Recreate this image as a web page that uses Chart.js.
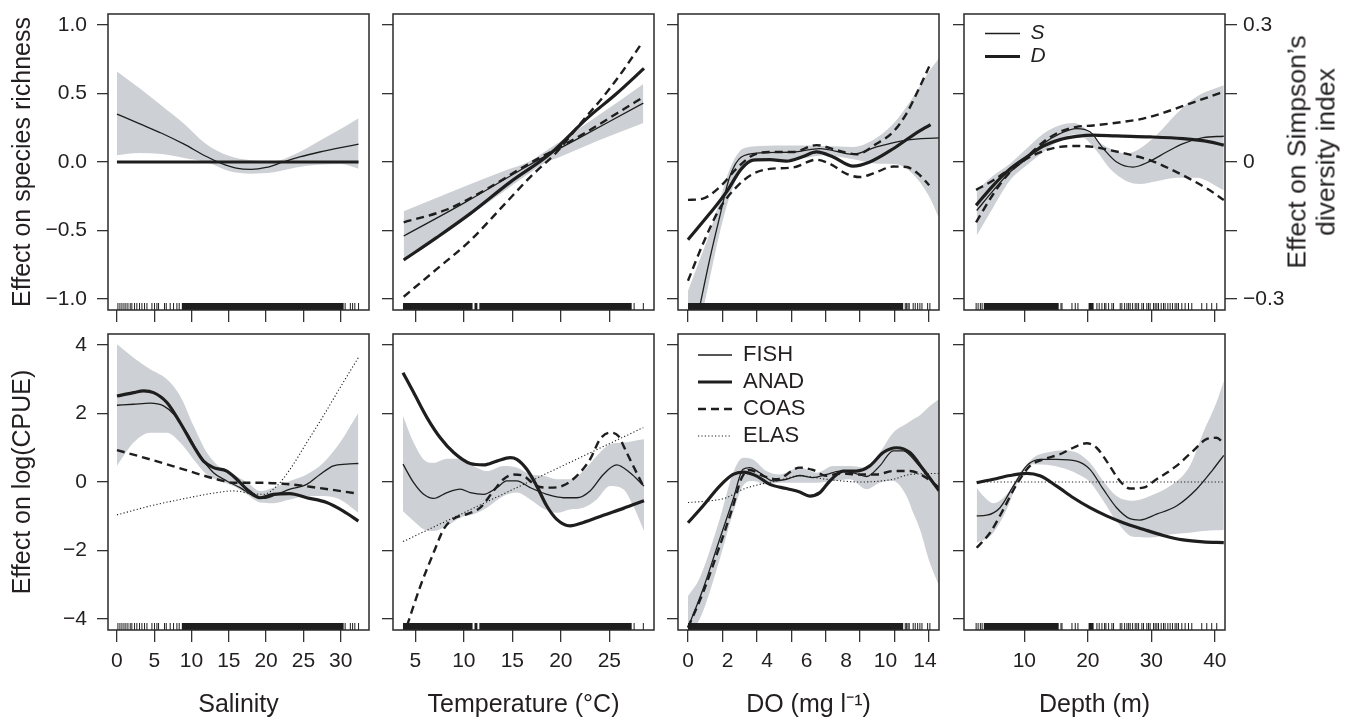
<!DOCTYPE html>
<html><head><meta charset="utf-8">
<script src="https://cdn.jsdelivr.net/npm/chart.js@4/dist/chart.umd.min.js"></script>
<style>
html,body{margin:0;padding:0;background:#fff;}
#wrap{position:relative;width:1349px;height:721px;overflow:hidden;background:#fff;}
#wrap canvas{position:absolute;left:0;top:0;}
#rtitle{position:absolute;left:1311px;top:152px;transform:translate(-50%,-50%) rotate(-90deg);
 font-family:'Liberation Sans',Arial,Helvetica,sans-serif;font-size:26.5px;line-height:28.5px;text-align:center;white-space:nowrap;color:#231f20;}
</style>
</head><body>
<div id="wrap"><div id="rtitle">Effect on Simpson’s<br>diversity index</div></div>
<script>
// ---------------- tick values / labels ----------------
const sal_xticks = [0,5,10,15,20,25,30];
const tmp_xticks = [5,10,15,20,25];
const do_xticks  = [0,2,4,6,8,10,12,14];
const do_xlabels = ['0','2','4','6','8','10','14'];
const dep_xticks = [10,20,30,40];
const rich_yticks = [-1,-0.5,0,0.5,1];
const simp_yticks = [-0.3,-0.15,0,0.15,0.3];
const simp_labels = ['\u22120.3','','0','','0.3'];
const cpue_yticks = [-4,-2,0,2,4];
const x_titles = ['Salinity','Temperature (°C)','DO (mg l\u207B\u00B9)','Depth (m)'];

// ---------------- top row: species richness (S) & Simpson's D ----------------
const sal_S = [[0,0.35],[3,0.28],[6,0.21],[9,0.13],[12,0.04],[14,-0.01],[16,-0.045],[18,-0.054],[20,-0.04],[22.3,0],[24.5,0.037],[27.2,0.073],[30,0.105],[32.4,0.13]];
const sal_D = [[0,0],[32.4,0]];
const sal_Sband_x  = [0,3,6,9,12,15,18,21,24,27,30,32.4];
const sal_Sband_hi = [0.66,0.54,0.41,0.28,0.13,0.045,0.012,0.006,0.06,0.15,0.24,0.32];
const sal_Sband_lo = [0.05,0.066,0.058,0.03,0.0,-0.065,-0.085,-0.075,-0.04,-0.02,-0.015,-0.05];

const tmp_S = [[3.8,-0.54],[10,-0.30],[16.8,-0.02],[22,0.18],[28.5,0.43]];
const tmp_Sband_x  = [3.8,10,14,17,18.2,20,24,28.5];
const tmp_Sband_hi = [-0.36,-0.18,-0.07,0.012,0.07,0.154,0.346,0.57];
const tmp_Sband_lo = [-0.72,-0.42,-0.22,-0.07,-0.012,0.04,0.16,0.285];
const tmp_D  = [[3.8,-0.2145],[7.23,-0.165],[10.66,-0.113],[14.78,-0.044],[18.89,0.018],[22.67,0.095],[25.75,0.15],[28.57,0.205]];
const tmp_Da = [[3.8,-0.132],[8.26,-0.104],[12.38,-0.059],[16.84,-0.002],[19.58,0.029],[22.67,0.066],[25.75,0.106],[28.57,0.143]];
const tmp_Db = [[3.8,-0.295],[7.23,-0.234],[10.66,-0.172],[14.09,-0.095],[16.84,-0.033],[19.58,0.022],[22.32,0.092],[24.38,0.143],[26.44,0.201],[28.33,0.26]];

const do_S = [[0,-1.46],[0.64,-1.08],[1.26,-0.71],[1.84,-0.40],[2.42,-0.11],[3.1,0.037],[4.17,0.066],[6.1,0.073],[7.65,0.098],[9.59,0.056],[10.95,0.11],[12.69,0.16],[14.59,0.176]];
const do_Sband_x  = [0,0.6,1.2,1.8,2.4,3.2,4.2,6,8,9.6,11,12,13,14,14.6];
const do_Sband_hi = [-0.94,-0.74,-0.54,-0.30,-0.06,0.098,0.117,0.12,0.117,0.11,0.18,0.29,0.46,0.66,0.76];
const do_Sband_lo = [-1.58,-1.24,-0.89,-0.54,-0.26,-0.04,0.012,0.017,0.05,0.02,-0.012,-0.015,-0.08,-0.25,-0.415];
const do_D  = [[0,-0.170],[1.26,-0.113],[2.23,-0.066],[3.1,-0.015],[3.78,0.004],[4.75,0.005],[5.72,0.002],[6.69,0.012],[7.46,0.022],[8.43,0.011],[9.59,-0.009],[10.56,0],[11.92,0.029],[13.08,0.059],[14.09,0.082]];
const do_Da = [[0,-0.083],[0.87,-0.080],[1.84,-0.055],[2.81,-0.015],[3.78,0.015],[4.75,0.022],[6.1,0.022],[7.46,0.037],[8.62,0.026],[9.79,0.017],[10.95,0.040],[11.92,0.066],[12.69,0.106],[13.47,0.165],[14.01,0.209]];
const do_Db = [[0,-0.260],[0.87,-0.179],[1.84,-0.102],[2.81,-0.055],[3.78,-0.026],[4.75,-0.015],[6.1,-0.012],[7.46,0.005],[8.24,-0.004],[9.21,-0.026],[9.98,-0.033],[10.95,-0.022],[11.92,-0.010],[12.69,-0.011],[13.47,-0.029],[14.01,-0.051]];

const dep_S = [[2.5,-0.354],[5.12,-0.207],[7.75,-0.073],[10.37,0.024],[12.99,0.134],[15.61,0.207],[18.23,0.244],[20.33,0.22],[22.43,0.098],[24.53,0],[27.15,-0.037],[29.77,0.005],[32.39,0.073],[35.01,0.134],[38.16,0.178],[41.41,0.188]];
const dep_Sband_x  = [2.5,5.12,7.75,10.37,12.99,15.61,17.7,19.3,21.4,23.5,26.1,28.2,30.8,34,37.1,41.41];
const dep_Sband_hi = [-0.207,-0.098,-0.012,0.098,0.207,0.268,0.285,0.256,0.159,0.098,0.061,0.098,0.195,0.354,0.476,0.56];
const dep_Sband_lo = [-0.537,-0.33,-0.134,-0.024,0.073,0.159,0.2,0.18,0.08,-0.05,-0.14,-0.16,-0.14,-0.115,-0.115,-0.207];
const dep_D  = [[2.4,-0.095],[5.12,-0.051],[7.75,-0.015],[10.37,0.011],[12.99,0.035],[15.61,0.049],[18.23,0.056],[20.85,0.059],[24.53,0.057],[29.77,0.055],[35.01,0.051],[39.2,0.044],[41.41,0.037]];
const dep_Da = [[2.4,-0.061],[5.12,-0.040],[7.75,-0.015],[10.37,0.011],[12.99,0.044],[15.61,0.066],[18.23,0.077],[20.85,0.080],[24.53,0.086],[28.72,0.095],[32.39,0.110],[36.06,0.128],[39.2,0.143],[41.41,0.154]];
const dep_Db = [[2.4,-0.132],[5.12,-0.070],[7.75,-0.022],[10.37,0.007],[12.99,0.024],[15.61,0.033],[18.23,0.035],[20.85,0.033],[23.48,0.026],[26.62,0.016],[29.77,0.004],[32.92,-0.015],[36.06,-0.037],[39.2,-0.062],[41.41,-0.083]];

// ---------------- bottom row: log(CPUE) ----------------
const sal_FISH = [[0,2.24],[2.23,2.27],[4.46,2.30],[6.25,2.22],[7.59,1.98],[9.38,1.44],[11.16,0.76],[12.95,0.27],[14.73,0.03],[16.52,-0.165],[18.3,-0.41],[19.64,-0.48],[21.43,-0.36],[23.21,-0.21],[25.45,-0.07],[27.23,0.22],[29.02,0.47],[30.8,0.52],[32.37,0.54]];
const sal_ANAD = [[0,2.51],[2.23,2.61],[3.57,2.66],[4.91,2.61],[6.7,2.32],[8.48,1.73],[10.27,1.05],[11.61,0.61],[12.95,0.42],[14.73,0.32],[16.07,0.08],[17.41,-0.21],[19.2,-0.46],[21,-0.36],[23.2,-0.34],[25.45,-0.46],[28.13,-0.60],[30.36,-0.85],[32.37,-1.14]];
const sal_COAS = [[0,0.93],[4.46,0.66],[8.93,0.37],[13.39,0.08],[15.63,-0.02],[17.86,-0.02],[22.32,-0.05],[26.79,-0.165],[32.37,-0.34]];
const sal_ELAS = [[0,-0.96],[4.46,-0.70],[8.93,-0.49],[13.39,-0.31],[15.63,-0.26],[17.86,-0.33],[19.64,-0.36],[21.43,-0.12],[23.21,0.37],[25.45,1.15],[27.68,1.93],[29.91,2.75],[32.37,3.63]];
const sal_Fband_x  = [0,2.23,4.46,6.7,8.48,10.27,12.05,13.84,15.63,17.41,19.2,20.98,23.21,25.45,27.68,29.91,32.37];
const sal_Fband_hi = [4.02,3.63,3.29,3.0,2.51,1.64,0.86,0.42,0.22,0,-0.26,-0.165,0.03,0.22,0.56,1.15,2.02];
const sal_Fband_lo = [0.47,1.15,1.44,1.44,1.15,0.66,0.22,0.03,-0.12,-0.36,-0.60,-0.62,-0.51,-0.41,-0.41,-0.51,-0.90];

const tmp_FISH = [[3.73,0.52],[4.83,-0.02],[5.86,-0.36],[6.89,-0.48],[8.26,-0.31],[9.63,-0.21],[10.66,-0.31],[12.03,-0.36],[13.4,-0.165],[14.43,0.03],[15.46,0.03],[16.84,-0.165],[18.55,-0.36],[20.27,-0.46],[21.64,-0.46],[23.01,-0.26],[24.38,0.22],[25.75,0.50],[27.13,0.27],[28.57,-0.12]];
const tmp_ANAD = [[3.73,3.19],[4.83,2.61],[6.2,1.88],[7.57,1.29],[8.95,0.86],[10.66,0.54],[12.03,0.50],[13.4,0.61],[14.78,0.71],[15.46,0.66],[16.49,0.37],[17.52,-0.12],[18.55,-0.70],[19.58,-1.09],[20.95,-1.28],[22.32,-1.18],[24.38,-0.97],[26.44,-0.77],[28.57,-0.55]];
const tmp_COAS = [[4.14,-4.2],[5.52,-3.04],[6.89,-2.06],[7.92,-1.38],[8.95,-1.07],[10.32,-0.94],[11.69,-0.75],[13.06,-0.26],[14.09,0.08],[15.12,0.22],[16.15,0.18],[17.52,-0.12],[18.89,-0.165],[20.27,-0.10],[21.64,0.18],[23.01,0.66],[24.04,1.25],[25.07,1.44],[25.93,1.34],[26.78,0.86],[27.81,0.27],[28.5,-0.12]];
const tmp_ELAS = [[3.73,-1.74],[28.5,1.59]];
const tmp_Fband_x  = [3.73,4.83,5.86,6.89,8.26,9.63,11.0,12.38,14.09,15.46,16.84,18.21,19.58,20.95,22.32,23.7,25.07,26.44,27.47,28.57];
const tmp_Fband_hi = [1.93,1.15,0.66,0.56,0.68,0.68,0.47,0.32,0.47,0.42,0.22,0.18,0.08,0.08,0.32,0.76,1.10,1.15,1.2,1.25];
const tmp_Fband_lo = [-0.85,-1.14,-1.38,-1.43,-1.28,-1.04,-0.94,-0.75,-0.41,-0.31,-0.51,-0.78,-0.90,-0.80,-0.75,-0.51,-0.12,-0.21,-0.70,-1.43];

const do_FISH = [[0,-4.25],[0.87,-3.13],[1.84,-1.67],[2.62,-0.51],[3.2,0.37],[3.59,0.42],[4.17,0.27],[4.94,0.03],[5.72,0.08],[6.49,0.19],[7.27,0.13],[8.04,0.22],[8.82,0.32],[9.59,0.27],[10.37,0.16],[11.14,0.47],[11.92,0.91],[12.5,0.91],[13.28,0.56],[14.05,0.08],[14.59,-0.26]];
const do_ANAD = [[0,-1.19],[0.87,-0.70],[1.84,-0.12],[2.62,0.22],[3.2,0.29],[3.97,0.18],[4.75,-0.07],[5.72,-0.19],[6.49,-0.29],[7.07,-0.41],[7.66,-0.31],[8.24,0.03],[9.01,0.32],[9.79,0.32],[10.56,0.47],[11.34,0.86],[12.11,1.00],[12.89,0.86],[13.66,0.37],[14.59,-0.26]];
const do_COAS = [[0,-4.25],[0.87,-3.23],[1.84,-1.87],[2.62,-0.70],[3.1,0.1],[3.59,0.35],[4.36,0.18],[5.14,0.08],[6.49,0.42],[7.27,0.35],[8.04,0.18],[8.82,0.25],[9.98,0.22],[10.95,0.22],[11.92,0.32],[12.89,0.32],[13.66,0.18],[14.59,-0.165]];
const do_ELAS = [[0,-0.60],[1.26,-0.55],[2.23,-0.46],[3.2,-0.21],[4.17,-0.07],[5.14,0.03],[6.49,0.18],[8.04,0.08],[9.98,0],[11.92,0.08],[12.89,0.22],[14.59,0.25]];
const do_Fband_x  = [0,0.68,1.84,2.62,3.2,3.78,4.55,5.33,6.49,7.46,8.43,9.4,10.37,11.14,11.92,12.69,13.08,13.47,14.05,14.59];
const do_Fband_hi = [-3.33,-2.8,-1.09,0.27,0.71,0.66,0.32,0.22,0.42,0.27,0.47,0.47,0.42,0.86,1.44,1.7,1.83,1.95,2.22,2.43];
const do_Fband_lo = [-4.4,-4.0,-2.26,-0.90,-0.1,0.03,-0.07,-0.02,-0.02,-0.02,0.03,0.08,-0.21,-0.02,0.03,-0.41,-0.9,-1.38,-2.36,-3.04];

const dep_FISH = [[2.5,-0.99],[4.07,-0.97],[6.17,-0.75],[8.27,-0.12],[10.37,0.47],[12.46,0.66],[15.09,0.66],[18.23,0.61],[20.33,0.37],[22.43,-0.21],[24.53,-0.75],[26.62,-1.07],[28.2,-1.11],[30.82,-0.94],[33.96,-0.70],[37.11,-0.21],[39.73,0.37],[41.41,0.78]];
const dep_ANAD = [[2.5,-0.02],[5.12,0.08],[7.75,0.19],[10.37,0.25],[12.46,0.18],[15.09,-0.12],[17.71,-0.46],[20.33,-0.75],[22.95,-0.99],[25.57,-1.19],[28.72,-1.38],[31.87,-1.56],[35.01,-1.69],[38.16,-1.75],[41.41,-1.77]];
const dep_COAS = [[2.5,-1.92],[4.6,-1.48],[6.7,-0.80],[8.79,-0.07],[10.89,0.47],[12.99,0.66],[15.61,0.81],[17.71,1.00],[19.81,1.13],[21.38,1.00],[22.95,0.61],[25.05,0.03],[26.62,-0.19],[28.72,-0.165],[30.82,0.08],[33.96,0.47],[36.59,0.91],[38.68,1.25],[40.25,1.29],[41.41,1.13]];
const dep_ELAS = [[2.5,0],[41.41,0]];
const dep_Fband_x  = [2.5,3.55,5.12,7.22,9.32,11.42,13.51,16.14,18.23,20.33,22.43,24.53,27.15,29.77,32.92,36.06,38.16,40.25,41.41];
const dep_Fband_hi = [-0.165,-0.41,-0.62,-0.36,0.27,0.71,0.86,0.93,0.86,0.56,0.03,-0.41,-0.55,-0.41,-0.12,0.47,1.44,2.32,2.95];
const dep_Fband_lo = [-1.77,-1.70,-1.48,-0.80,0.13,0.52,0.50,0.40,0.25,0.0,-0.55,-1.15,-1.6,-1.62,-1.53,-1.48,-1.43,-1.41,-1.40];

// ---------------- rug (observation positions) ----------------
const sal_rug_dense = [[8.7,30.4]];
const sal_rug_ticks = [0.13,0.4,0.67,0.94,1.2,1.47,1.78,2.0,2.36,2.67,3.03,3.35,3.7,4.02,4.69,5.04,5.36,5.58,6.38,6.61,7.14,7.59,8.04,8.35,30.6,31.3,31.6,31.9,32.4];
const tmp_rug_dense = [[3.73,10.9],[11.1,11.4],[11.6,27.3]];
const tmp_rug_ticks = [27.55,28.5];
const do_rug_dense = [[0,12.5]];
const do_rug_ticks = [12.62,12.7,12.78,12.85,13.08,13.2,13.34,13.47,13.59,13.92,14.05];
const dep_rug_dense = [[3.62,15.41],[20.12,20.91]];
const dep_rug_ticks = [2.41,2.72,3.08,3.35,15.77,15.93,17.5,18.02,18.44,21.43,21.79,22.22,22.64,22.85,23.27,23.79,24.05,25.1,25.36,25.79,26.15,26.42,26.67,27.05,27.46,27.72,27.99,28.51,28.77,29.29,29.56,29.81,30.35,30.6,30.87,31.13,31.55,31.92,32.17,32.6,32.96,33.33,33.74,34.01,34.28,34.8,35.32,35.85,36.37,37.94,38.73,39.51,40.3];

// ---------------- layout & style ----------------
const PAGE_W = 1349, PAGE_H = 721;
const BOX_L = [108, 393, 678, 964], BOX_W = 261;
const BOX_T = [14, 334], BOX_H = 296;
const Y_W = 108, X_H = 90, R_W = 124;
const INK = '#1e1e1e', BAND = '#cdd0d4', TXT = '#231f20', TICK_C = '#333333', BOX_C = '#2a2a2a';
const FONT = "'Liberation Sans', Arial, Helvetica, sans-serif";
const RUG_LEN = 7;
const STY = {
  thin:  {borderWidth:1.3, borderDash:[]},
  thick: {borderWidth:3.2, borderDash:[]},
  dash:  {borderWidth:2.4, borderDash:[8,5]},
  dot:   {borderWidth:1.1, borderDash:[1.2,2.2]}
};
Chart.defaults.font.family = FONT;
Chart.defaults.color = TXT;

const pts = arr => arr.map(p => ({x:p[0], y:p[1]}));
function line(label, arr, sty, yAxisID){
  return Object.assign({label, data:pts(arr), xAxisID:'x', yAxisID:yAxisID||'y', borderColor:INK, backgroundColor:INK,
    pointRadius:0, fill:false, cubicInterpolationMode:'monotone', borderCapStyle:'butt', order:0}, sty);
}
function band(xs, hi, lo, yAxisID){
  const mk = ys => xs.map((x,i)=>({x, y:ys[i]}));
  return [
    {label:'', data:mk(hi), xAxisID:'x', yAxisID:yAxisID||'y', borderWidth:0, borderColor:'rgba(0,0,0,0)', pointRadius:0, fill:'+1', backgroundColor:BAND, cubicInterpolationMode:'monotone', order:5},
    {label:'', data:mk(lo), xAxisID:'x', yAxisID:yAxisID||'y', borderWidth:0, borderColor:'rgba(0,0,0,0)', pointRadius:0, fill:false, backgroundColor:BAND, cubicInterpolationMode:'monotone', order:5}
  ];
}
function rug(dense, ticks){
  const out = dense.map(seg => ({label:'', data:[{x:seg[0], y:RUG_LEN/2},{x:seg[1], y:RUG_LEN/2}], xAxisID:'x', yAxisID:'yr',
    borderColor:INK, borderWidth:RUG_LEN, borderCapStyle:'butt', pointRadius:0, fill:false, order:1}));
  out.push({label:'', data:ticks.map(x => ({x, y:RUG_LEN/2})), xAxisID:'x', yAxisID:'yr', showLine:false,
    pointStyle:'line', pointRotation:90, pointRadius:RUG_LEN/2, pointBorderColor:INK, pointBorderWidth:1, borderColor:INK, order:1});
  return out;
}
function nopad(s){ s.paddingLeft = 0; s.paddingRight = 0; s.paddingTop = 0; s.paddingBottom = 0; }
const fmtRich = v => (v < 0 ? '\u2212' : '') + Math.abs(v).toFixed(1);
const fmtCpue = v => (v < 0 ? '\u2212' : '') + Math.abs(v);

function buildScales(col, row, sp){
  const bottom = row === 1, left = col === 0;
  const tickFont = {family:FONT, size:21};
  const titleFont = {family:FONT, size:25};
  const grid = len => ({drawOnChartArea:false, drawTicks:true, tickLength:len, color:TICK_C, lineWidth:1.3});
  const showXLab = bottom && !sp.xlabels;
  const sc = {};
  sc.x = {type:'linear', position:'bottom', min:sp.xr[0], max:sp.xr[1], border:{display:false}, grid:grid(12),
    afterBuildTicks: s => { s.ticks = sp.xt.map(v => ({value:v})); },
    ticks:{display:showXLab, autoSkip:false, maxRotation:0, minRotation:0, padding:7, font:tickFont, color:TXT, callback:v => String(v)},
    title:{display:showXLab, text:sp.title, font:titleFont, color:TXT, padding:{top:0, bottom:0}},
    afterFit: s => { s.height = showXLab ? X_H : 12; nopad(s); }};
  if (bottom && sp.xlabels) {
    sc.xl = {type:'linear', position:'bottom', min:sp.xlr[0], max:sp.xlr[1], border:{display:false}, grid:{display:false, drawTicks:false},
      afterBuildTicks: s => { s.ticks = sp.xlabels.map((t,i) => ({value:i})); },
      ticks:{autoSkip:false, maxRotation:0, minRotation:0, padding:7, font:tickFont, color:TXT, callback:v => sp.xlabels[Math.round(v)]},
      title:{display:true, text:sp.title, font:titleFont, color:TXT, padding:{top:0, bottom:0}},
      afterFit: s => { s.height = X_H - 12; nopad(s); }};
  }
  const yr = bottom ? [-4.32, 4.32] : [-1.08, 1.08];
  const yt = bottom ? cpue_yticks : rich_yticks;
  sc.y = {type:'linear', position:'left', min:yr[0], max:yr[1], border:{display:false}, grid:grid(11),
    afterBuildTicks: s => { s.ticks = yt.map(v => ({value:v})); },
    ticks:{display:left, padding:10, font:tickFont, color:TXT, callback:v => bottom ? fmtCpue(v) : fmtRich(v)},
    title:{display:left, text: bottom ? 'Effect on log(CPUE)' : 'Effect on species richness', font:titleFont, color:TXT, padding:{top:8, bottom:0}},
    afterFit: s => { s.width = left ? Y_W : 11; nopad(s); }};
  if (!bottom) {
    const show = col === 3;
    sc.yR = {type:'linear', position:'right', display:show, min:-0.324, max:0.324, border:{display:false}, grid:grid(12),
      afterBuildTicks: s => { s.ticks = simp_yticks.map(v => ({value:v})); },
      ticks:{padding:6, font:tickFont, color:TXT, callback:(v,i) => simp_labels[i]},
      afterFit: s => { s.width = show ? R_W : 0; nopad(s); }};
  }
  sc.yr = {type:'linear', display:false, min:0, max:BOX_H};
  return sc;
}

const boxPlugin = {id:'panelBox', afterDatasetsDraw(chart){
  const {ctx, chartArea:a} = chart;
  ctx.save(); ctx.strokeStyle = BOX_C; ctx.lineWidth = 1.5;
  ctx.strokeRect(a.left, a.top, a.right - a.left, a.bottom - a.top); ctx.restore();
}};

const wrap = document.getElementById('wrap');
function makeChart(col, row, sp){
  const cv = document.createElement('canvas');
  cv.width = PAGE_W; cv.height = PAGE_H;
  wrap.insertBefore(cv, wrap.firstChild);
  const bottom = row === 1;
  const leftW = col === 0 ? Y_W : 11;
  const rightW = (!bottom && col === 3) ? R_W : 0;
  const xH = bottom ? X_H : 12;
  const lg = sp.legend;
  const legendOpts = lg ? {
    display:true, position:'chartArea', align:'start',
    labels:{usePointStyle:true, pointStyle:'line', pointStyleWidth:lg.w, padding:lg.pad, color:TXT,
      font:{family:FONT, size:lg.size, style:lg.style || 'normal'},
      generateLabels: chart => chart.data.datasets.map((d,i) => ({text:d.label, datasetIndex:i, strokeStyle:INK, fillStyle:INK,
        lineWidth:d.borderWidth, lineDash:d.borderDash || [], lineCap:'butt', pointStyle:'line', hidden:false, fontColor:TXT})).filter(it => it.text)}
  } : {display:false};
  const shift = {id:'legendShift', afterLayout(chart){
    if (!lg || !chart.legend) return;
    const a = chart.chartArea, L = chart.legend;
    L.left = a.left + lg.dx; L.top = a.top + lg.dy; L.right = a.right; L.bottom = a.bottom;
  }};
  new Chart(cv.getContext('2d'), {
    type:'line',
    data:{datasets:sp.datasets},
    options:{responsive:false, animation:false, events:[], devicePixelRatio:1,
      layout:{autoPadding:false, padding:{left:BOX_L[col] - leftW, right:PAGE_W - BOX_L[col] - BOX_W - rightW, top:BOX_T[row], bottom:PAGE_H - BOX_T[row] - BOX_H - xH}},
      scales:buildScales(col, row, sp),
      plugins:{tooltip:{enabled:false}, legend:legendOpts}},
    plugins:[boxPlugin, shift]
  });
}

const XR = [[-1.2,33.8],[2.7,29.6],[-0.58,14.58],[0.5,41.6]];
const XT = [sal_xticks, tmp_xticks, do_xticks, dep_xticks];

// top row
makeChart(0,0,{xr:XR[0], xt:XT[0], title:x_titles[0], datasets:[
  line('S', sal_S, STY.thin), line('D', sal_D, STY.thick, 'yR'),
  ...band(sal_Sband_x, sal_Sband_hi, sal_Sband_lo), ...rug(sal_rug_dense, sal_rug_ticks)]});
makeChart(1,0,{xr:XR[1], xt:XT[1], title:x_titles[1], datasets:[
  line('S', tmp_S, STY.thin), line('D', tmp_D, STY.thick, 'yR'), line('', tmp_Da, STY.dash, 'yR'), line('', tmp_Db, STY.dash, 'yR'),
  ...band(tmp_Sband_x, tmp_Sband_hi, tmp_Sband_lo), ...rug(tmp_rug_dense, tmp_rug_ticks)]});
makeChart(2,0,{xr:XR[2], xt:XT[2], title:x_titles[2], datasets:[
  line('S', do_S, STY.thin), line('D', do_D, STY.thick, 'yR'), line('', do_Da, STY.dash, 'yR'), line('', do_Db, STY.dash, 'yR'),
  ...band(do_Sband_x, do_Sband_hi, do_Sband_lo), ...rug(do_rug_dense, do_rug_ticks)]});
makeChart(3,0,{xr:XR[3], xt:XT[3], title:x_titles[3],
  legend:{w:35, pad:2, size:21, style:'italic', dx:19, dy:7},
  datasets:[
  line('S', dep_S, STY.thin), line('D', dep_D, STY.thick, 'yR'), line('', dep_Da, STY.dash, 'yR'), line('', dep_Db, STY.dash, 'yR'),
  ...band(dep_Sband_x, dep_Sband_hi, dep_Sband_lo), ...rug(dep_rug_dense, dep_rug_ticks)]});

// bottom row
makeChart(0,1,{xr:XR[0], xt:XT[0], title:x_titles[0], datasets:[
  line('FISH', sal_FISH, STY.thin), line('ANAD', sal_ANAD, STY.thick), line('COAS', sal_COAS, STY.dash), line('ELAS', sal_ELAS, STY.dot),
  ...band(sal_Fband_x, sal_Fband_hi, sal_Fband_lo), ...rug(sal_rug_dense, sal_rug_ticks)]});
makeChart(1,1,{xr:XR[1], xt:XT[1], title:x_titles[1], datasets:[
  line('FISH', tmp_FISH, STY.thin), line('ANAD', tmp_ANAD, STY.thick), line('COAS', tmp_COAS, STY.dash), line('ELAS', tmp_ELAS, STY.dot),
  ...band(tmp_Fband_x, tmp_Fband_hi, tmp_Fband_lo), ...rug(tmp_rug_dense, tmp_rug_ticks)]});
makeChart(2,1,{xr:XR[2], xt:XT[2], title:x_titles[2], xlabels:do_xlabels, xlr:[-0.253,6.354],
  legend:{w:34, pad:5, size:22, dx:15, dy:5},
  datasets:[
  line('FISH', do_FISH, STY.thin), line('ANAD', do_ANAD, STY.thick), line('COAS', do_COAS, STY.dash), line('ELAS', do_ELAS, STY.dot),
  ...band(do_Fband_x, do_Fband_hi, do_Fband_lo), ...rug(do_rug_dense, do_rug_ticks)]});
makeChart(3,1,{xr:XR[3], xt:XT[3], title:x_titles[3], datasets:[
  line('FISH', dep_FISH, STY.thin), line('ANAD', dep_ANAD, STY.thick), line('COAS', dep_COAS, STY.dash), line('ELAS', dep_ELAS, STY.dot),
  ...band(dep_Fband_x, dep_Fband_hi, dep_Fband_lo), ...rug(dep_rug_dense, dep_rug_ticks)]});
</script>
</body></html>
